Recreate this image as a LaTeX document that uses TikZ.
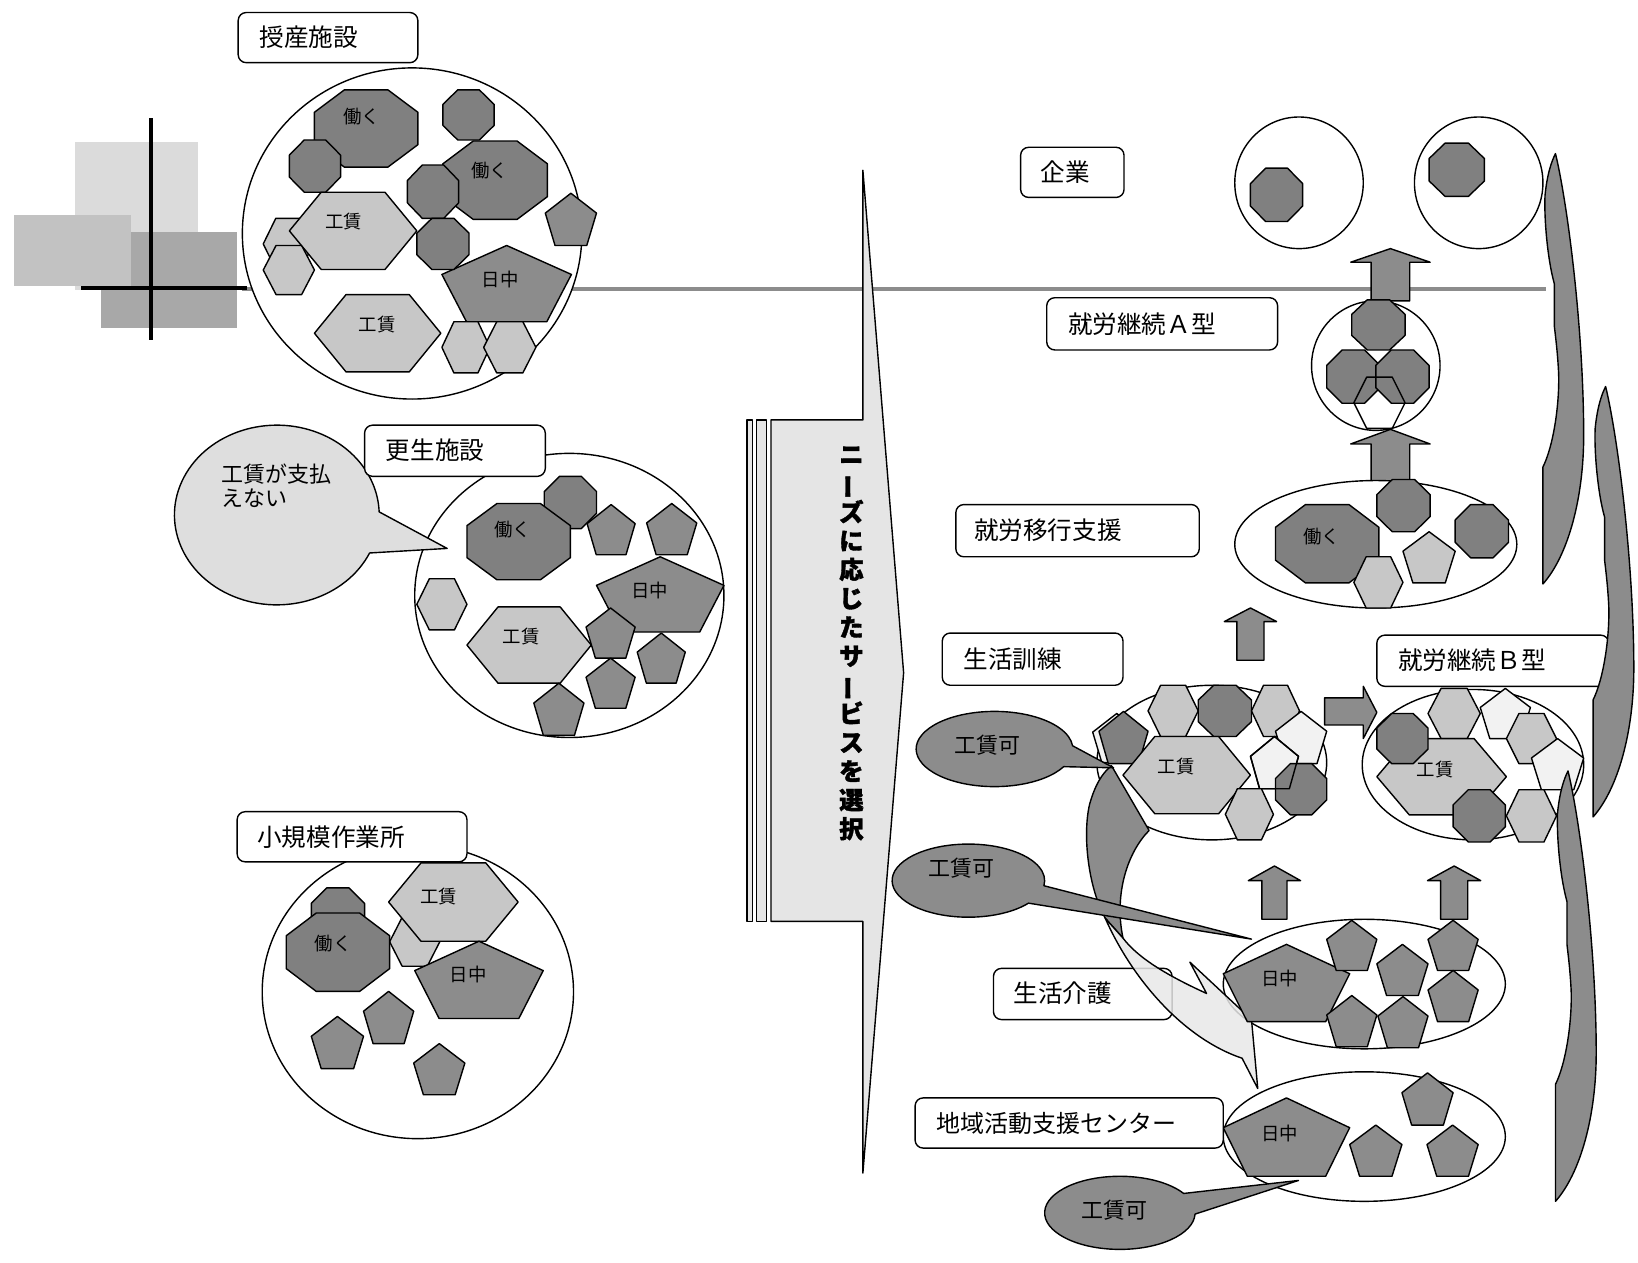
\documentclass[tikz,border=0pt]{standalone}
\usepackage{fontspec}
\usepackage{graphicx}
\newfontfamily\jp{Noto Sans CJK JP}
\newfontfamily\jpb{Noto Sans CJK JP}[BoldFeatures={FakeBold=1.5}]
\colorlet{cdark}{black!50}
\colorlet{cpent}{black!45}
\colorlet{clight}{black!22}
\colorlet{cpale}{black!5}
\tikzset{
  shp/.style={draw=black, line width=0.7pt, line join=round},
  fd/.style={fill=cdark}, fp/.style={fill=cpent}, fl/.style={fill=clight}, fw/.style={fill=cpale},
  lbox/.style={draw=black, line width=0.7pt, fill=white, rounded corners=4pt},
  ltxt/.style={font=\jp\fontsize{12.3}{14}\selectfont, anchor=west, inner sep=0pt},
  stxt/.style={font=\jp\fontsize{9.2}{10}\selectfont, inner sep=0pt},
  btxt/.style={font=\jp\fontsize{11}{12}\selectfont, inner sep=0pt},
  blk/.style={shp, fill=black!45},
}
\newcommand{\octo}[5]{\pgfmathsetmacro\myqa{0.29*(#3-#1)}\pgfmathsetmacro\myqb{0.29*(#4-#2)}%
  \draw[shp,#5] ({#1+\myqa},#2) -- ({#3-\myqa},#2) -- (#3,{#2+\myqb}) -- (#3,{#4-\myqb}) -- ({#3-\myqa},#4) -- ({#1+\myqa},#4) -- (#1,{#4-\myqb}) -- (#1,{#2+\myqb}) -- cycle;}
\newcommand{\hexa}[5]{\pgfmathsetmacro\myqa{0.25*(#3-#1)}\pgfmathsetmacro\myqm{0.5*(#2+#4)}%
  \draw[shp,#5] (#1,\myqm) -- ({#1+\myqa},#2) -- ({#3-\myqa},#2) -- (#3,\myqm) -- ({#3-\myqa},#4) -- ({#1+\myqa},#4) -- cycle;}
\newcommand{\penta}[5]{\pgfmathsetmacro\myqa{0.19*(#3-#1)}\pgfmathsetmacro\myqb{#2+0.38*(#4-#2)}\pgfmathsetmacro\myqm{0.5*(#1+#3)}%
  \draw[shp,#5] (\myqm,#2) -- (#3,\myqb) -- ({#3-\myqa},#4) -- ({#1+\myqa},#4) -- (#1,\myqb) -- cycle;}
\newcommand{\uparr}[6]{%
  \draw[blk] ({#1-#6},#4) -- ({#1-#6},#3) -- ({#1-#5},#3) -- (#1,#2) -- ({#1+#5},#3) -- ({#1+#6},#3) -- ({#1+#6},#4) -- cycle;}
\newcommand{\swoosh}[2]{\begin{scope}[shift={(#1,#2)}]
  \draw[blk] (0,0) .. controls (12,50) and (27,170) .. (27,270) .. controls (27,330) and (12,385) .. (-12,412) -- (-12,300) .. controls (-2,280) and (4,240) .. (3,210) .. controls (2,190) and (0,175) .. (-1,166) -- (-1,125) .. controls (-8,100) and (-11,60) .. (-10,40) .. controls (-8,20) and (-4,8) .. (0,0) -- cycle;
  \end{scope}}
\begin{document}
\begin{tikzpicture}[x=0.5223pt,y=-0.5223pt]
\useasboundingbox (0,0) rectangle (1568,1209);
% ---------- background blocks and cross ----------
\fill[black!14] (72,136) rectangle (190,278);
\fill[black!24] (13,206) rectangle (125,274);
\fill[black!34] (125,222) rectangle (227,314);
\fill[black!34] (97,278) rectangle (227,314);
\draw[line width=2pt, black!45] (232,277) -- (1480,277);
\draw[line width=2pt] (78,276) -- (236,276);
\draw[line width=2pt] (145,113) -- (145,325);
% ---------- 授産施設 ----------
\draw[shp, fill=white] (394.5,223.5) ellipse [x radius=162.5, y radius=158.5];
\hexa{252}{209}{300}{258}{fl}
\hexa{252}{235}{301}{282}{fl}
\octo{301}{86}{400}{160}{fd}
\octo{277}{134}{326}{184}{fd}
\hexa{277}{184}{399}{258}{fl}
\octo{424}{86}{473}{134}{fd}
\octo{424}{135}{524}{210}{fd}
\octo{390}{158}{439}{209}{fd}
\penta{522}{185}{571}{235}{fp}
\penta{423}{235}{547}{308}{fp}
\octo{399}{209}{449}{258}{fd}
\hexa{301}{282}{422}{356}{fl}
\hexa{423}{308}{469}{357}{fl}
\hexa{463}{308}{513}{357}{fl}
\node[stxt] (j1) at (346,112) {働く};
\node[stxt] (j2) at (469,163) {働く};
\node[stxt] (j3) at (329,212) {工賃};
\node[stxt] (j4) at (479,268) {日中};
\node[stxt] (j5) at (361,311) {工賃};
\draw[lbox] (228,12) rectangle (400,60);
\node[ltxt] (jusan) at (248,36) {授産施設};
% ---------- 更生施設 ----------
\draw[shp, fill=white] (545,570) ellipse [x radius=148, y radius=136];
\draw[shp, fill=black!13] (428,525) -- ([shift={(265,493)}]25:98 and 86) arc[start angle=25, end angle=358, x radius=98, y radius=86] -- cycle;
\node[btxt, anchor=north west, align=left] (kosei-say) at (212,444) {工賃が支払\\えない};
\octo{521}{456}{571}{506}{fd}
\octo{447}{482}{546}{555}{fd}
\penta{562}{483}{608}{531}{fp}
\penta{619}{482}{667}{531}{fp}
\penta{571}{533}{693}{605}{fp}
\hexa{399}{554}{447}{603}{fl}
\hexa{447}{581}{566}{654}{fl}
\penta{561}{582}{608}{630}{fp}
\penta{610}{606}{656}{654}{fp}
\penta{561}{630}{608}{678}{fp}
\penta{511}{654}{559}{704}{fp}
\node[stxt] (k1) at (491,507) {働く};
\node[stxt] (k2) at (622,565) {日中};
\node[stxt] (k3) at (499,609) {工賃};
\draw[lbox] (349,407) rectangle (522,456);
\node[ltxt] (kosei) at (369,431) {更生施設};
% ---------- 小規模作業所 ----------
\draw[shp, fill=white] (400,949.5) ellipse [x radius=149, y radius=140.5];
\octo{298}{850}{349}{901}{fd}
\hexa{373}{878}{421}{925}{fl}
\octo{274}{874}{373}{949}{fd}
\hexa{372}{826}{496}{901}{fl}
\penta{397}{901}{520}{975}{fp}
\penta{348}{949}{396}{999}{fp}
\penta{298}{973}{348}{1023}{fp}
\penta{396}{999}{445}{1048}{fp}
\node[stxt] (s1) at (319,903) {働く};
\node[stxt] (s2) at (420,858) {工賃};
\node[stxt] (s3) at (448,933) {日中};
\draw[lbox] (227,777) rectangle (447,825);
\node[ltxt] (shokibo) at (246,801) {小規模作業所};
% ---------- central arrow ----------
\draw[shp, fill=black!10] (715,402) rectangle (720.5,882);
\draw[shp, fill=black!10] (724,402) rectangle (734,882);
\draw[shp, fill=black!10] (738,402) -- (826,402) -- (826,163) -- (865,644) -- (826,1123) -- (826,882) -- (738,882) -- cycle;
\node[font=\jpb\bfseries\fontsize{12.2}{14.4}\selectfont, align=center, inner sep=0pt] (needs) at (815,616)
  {ニ\\\rotatebox[origin=c]{90}{ー}\\ズ\\に\\応\\じ\\た\\サ\\\rotatebox[origin=c]{90}{ー}\\ビ\\ス\\を\\選\\択};
% ---------- 企業 ----------
\draw[shp, fill=white] (1243.5,175) ellipse [x radius=61.5, y radius=63];
\draw[shp, fill=white] (1415.5,175) ellipse [x radius=61.5, y radius=63];
\octo{1197}{161}{1247}{212}{fd}
\octo{1368}{137}{1421}{188}{fd}
\draw[lbox] (977,141) rectangle (1076,189);
\node[ltxt] (kigyo) at (996,165) {企業};
\uparr{1331}{238}{251}{288}{38}{18.5}
% ---------- 就労継続A型 ----------
\draw[shp, fill=white] (1317,350) ellipse [x radius=61.5, y radius=62];
\octo{1294}{287}{1345}{335}{fd}
\octo{1270}{335}{1321}{386}{fd}
\octo{1317}{335}{1368}{386}{fd}
\hexa{1296}{361}{1345}{410}{fill=none}
\draw[lbox] (1002,285) rectangle (1223,335);
\node[ltxt] (typeA) at (1022,310) {就労継続Ａ型};
\uparr{1331}{411}{425}{461}{38}{18.5}
% ---------- 就労移行支援 ----------
\draw[shp, fill=white] (1317,521) ellipse [x radius=135, y radius=61];
\octo{1221}{483}{1320}{558}{fd}
\octo{1318}{459}{1369}{509}{fd}
\octo{1393}{483}{1444}{534}{fd}
\penta{1343}{509}{1393}{558}{fl}
\hexa{1296}{533}{1343}{582}{fl}
\node[stxt] (m1) at (1265,514) {働く};
\draw[lbox] (915,483) rectangle (1148,533);
\node[ltxt] (ikou) at (932,508) {就労移行支援};
\uparr{1197}{582}{595}{632}{25}{13}
% ---------- 生活訓練 ----------
\draw[shp, fill=white] (1160,730) ellipse [x radius=110, y radius=74];
\draw[blk] (1100,795) .. controls (1080,815) and (1066,855) .. (1075,898) -- (1058,879) .. controls (1042,850) and (1036,800) .. (1043,770) .. controls (1048,752) and (1055,740) .. (1064,733) -- cycle;
\penta{1046}{683}{1092}{730}{fw}
\penta{1052}{681}{1099}{731}{fd}
\hexa{1099}{656}{1147}{705}{fl}
\octo{1147}{656}{1198}{705}{fd}
\hexa{1198}{656}{1244}{705}{fl}
\penta{1221}{681}{1270}{731}{fw}
\penta{1197}{705}{1243}{755}{fw}
\octo{1221}{731}{1270}{780}{fd}
\penta{1197}{705}{1243}{755}{fill=none}
\hexa{1075}{705}{1197}{779}{fl}
\hexa{1173}{755}{1219}{804}{fl}
\node[stxt] (t1) at (1126,734) {工賃};
\draw[lbox] (902,606) rectangle (1075,656);
\node[ltxt] (kunren) at (922,631) {生活訓練};
% ---------- 就労継続B型 ----------
\draw[shp, fill=white] (1410,732) ellipse [x radius=106, y radius=72];
\hexa{1367}{659}{1417}{707}{fl}
\penta{1417}{659}{1465}{707}{fw}
\hexa{1442}{683}{1490}{731}{fl}
\penta{1466}{707}{1516}{756}{fw}
\hexa{1318}{707}{1442}{780}{fl}
\octo{1318}{683}{1367}{731}{fd}
\octo{1391}{756}{1441}{806}{fd}
\hexa{1442}{756}{1490}{806}{fl}
\node[stxt] (b1) at (1374,737) {工賃};
\draw[lbox] (1318,608) rectangle (1540,657);
\node[ltxt] (typeB) at (1338,632) {就労継続Ｂ型};
\draw[blk] (1268,668) -- (1305,668) -- (1305,657) -- (1318,682) -- (1305,707) -- (1305,694) -- (1268,694) -- cycle;
% ---------- 生活介護 ----------
\draw[shp, fill=white] (1306,942) ellipse [x radius=135, y radius=62];
\draw[lbox] (951,927) rectangle (1122,976);
\node[ltxt] (kaigo) at (970,951) {生活介護};
\draw[shp, fill=black!9, fill opacity=0.85] (1058,879) .. controls (1085,940) and (1135,995) .. (1189,1013) -- (1204,1042) -- (1198,976) -- (1139,921) -- (1155,951) .. controls (1120,935) and (1090,918) .. (1075,898) -- cycle;
\penta{1171}{904}{1292}{978}{fp}
\penta{1270}{881}{1318}{929}{fp}
\penta{1318}{904}{1367}{953}{fp}
\penta{1367}{881}{1415}{929}{fp}
\penta{1367}{929}{1415}{978}{fp}
\penta{1270}{953}{1318}{1002}{fp}
\penta{1319}{954}{1367}{1003}{fp}
\node[stxt] (c1) at (1225,937) {日中};
\uparr{1220}{829}{843}{880}{25}{12}
\uparr{1392}{829}{843}{880}{25.5}{13}
% ---------- 地域活動支援センター ----------
\draw[shp, fill=white] (1306,1088) ellipse [x radius=135, y radius=62];
\penta{1171}{1051}{1292}{1126}{fp}
\penta{1342}{1027}{1391}{1077}{fp}
\penta{1292}{1077}{1342}{1126}{fp}
\penta{1366}{1077}{1415}{1126}{fp}
\node[stxt] (d1) at (1225,1085) {日中};
\draw[lbox] (876,1051) rectangle (1171,1099);
\node[ltxt, font=\jp\fontsize{12}{14}\selectfont] (chiiki) at (896,1075) {地域活動支援センター};
% ---------- 工賃可 bubbles ----------
\draw[shp, fill=black!45] (1066,735) -- ([shift={(952,717)}]28:75 and 36) arc[start angle=28, end angle=355, x radius=75, y radius=36] -- cycle;
\node[btxt] (w1) at (945,713) {工賃可};
\draw[shp, fill=black!45] (1198,899) -- ([shift={(927,843)}]38:73 and 35) arc[start angle=38, end angle=368, x radius=73, y radius=35] -- cycle;
\node[btxt] (w2) at (920,831) {工賃可};
\draw[shp, fill=black!45] (1243,1130) -- ([shift={(1072,1161)}]2:72 and 35) arc[start angle=2, end angle=328, x radius=72, y radius=35] -- cycle;
\node[btxt] (w3) at (1067,1158) {工賃可};
% ---------- right swooshes ----------
\swoosh{1489}{147}
\swoosh{1537}{370}
\swoosh{1501}{738}
\end{tikzpicture}
\end{document}
